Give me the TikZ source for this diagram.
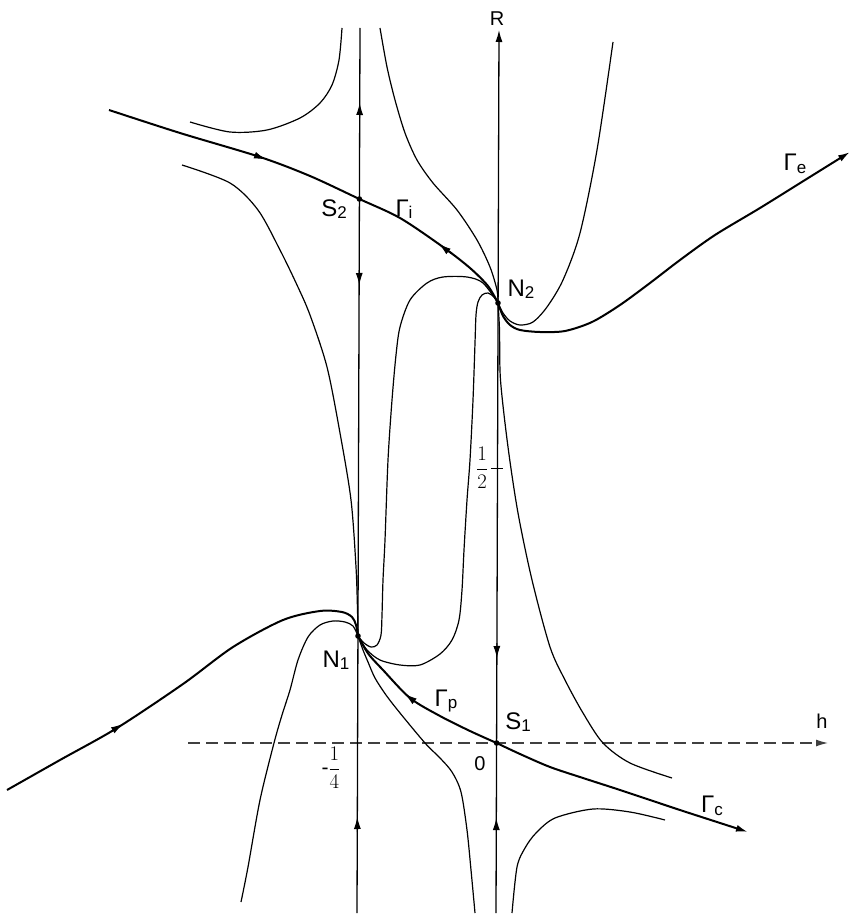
\documentclass[tikz,border=0pt]{standalone}
\usepackage{fontspec}
\setmainfont{Liberation Sans}
\usetikzlibrary{arrows.meta}
\newcommand\sbs[1]{\raisebox{-2.5pt}{\fontsize{17}{17}\selectfont #1}}
\begin{document}
\begin{tikzpicture}[x=1pt,y=-1pt,
  thincurve/.style={line width=1.2pt,line join=round},
  thickcurve/.style={line width=2pt,line join=round},
  axisline/.style={line width=1.3pt},
  endtip/.style={-{Latex[length=12pt,width=7pt]}},
  midarrow/.style={line width=1pt,-{Latex[length=12pt,width=7pt]}},
  lbl/.style={font=\fontsize{24}{27}\selectfont, inner sep=0pt},
  smalllbl/.style={font=\fontsize{20}{23}\selectfont, inner sep=0pt},
  fraclbl/.style={font=\fontsize{21}{24}\selectfont, inner sep=0pt},
  dot/.style={fill=black}
]
\useasboundingbox (0,0) rectangle (854,915);

% key points
\coordinate (N1) at (358,636);
\coordinate (N2) at (498,303);
\coordinate (S1) at (496.6,743);
\coordinate (S2) at (359.4,199);
\coordinate (Lb) at (357,913);
\coordinate (Lt) at (360,28);
\coordinate (Rb) at (496,913);
\coordinate (Rt) at (499,30);
\coordinate (Hl) at (188,743);
\coordinate (Hr) at (828,743);

% axes
\draw[line width=1.2pt, black!75, dash pattern=on 12pt off 6pt, endtip] (Hl) -- (Hr);
\draw[axisline] (Lb) -- (Lt);
\draw[axisline, endtip] (Rb) -- (Rt);
\draw[line width=1pt] (491,468) -- (503,468);

% arrows on the vertical lines
\draw[midarrow] (359.6,118) -- (359.7,103);
\draw[midarrow] (359.2,270) -- (359.3,285);
\draw[midarrow] (357.4,832) -- (357.3,817);
\draw[midarrow] (496.8,643) -- (496.9,658);
\draw[midarrow] (496.3,833) -- (496.3,818);

% Gamma_i (thick)
\draw[thickcurve] plot[smooth] coordinates {(109,110) (180,133) (260,157) (310,176) (S2) (400,218) (443,247) (470,268) (488,286) (N2)};
\draw[midarrow] (253,154.6) -- (266,159.4);
\draw[midarrow] (451,253.5) -- (439,244);

% thin from top into N2
\draw[thincurve] plot[smooth] coordinates {(380,28) (387,67) (395,100) (405,133) (417,160) (433,183) (457,210) (477,240) (490,267) (497,290) (N2)};

% top-left curve
\draw[thincurve] plot[smooth] coordinates {(190,122) (230,132) (267,130) (300,118) (320,103) (332,85) (339,60) (342,28)};

% left curve into N1 from above
\draw[thincurve] plot[smooth] coordinates {(182,165) (230,183) (258,210) (280,250) (297,285) (310,315) (327,367) (340,433) (351,500) (356,567) (357.5,610) (N1)};

% curve A (left S)
\draw[thincurve] plot[smooth] coordinates {(N1) (364,643) (371,647) (377,645) (381,635) (382,615) (383,580) (385,540) (388,460) (392,400) (396,355) (400,327) (410,300) (427,283) (443,277) (467,277) (483,283) (N2)};

% curve B (right S)
\draw[thincurve] plot[smooth] coordinates {(N1) (367,650) (380,660) (400,665) (420,665) (440,654) (452,640) (459,620) (462,590) (464,550) (467,500) (470,460) (473,400) (475,343) (476,315) (478,302) (482,295) (488,293) (494,297) (N2)};

% Gamma_p (thick)
\draw[thickcurve] plot[smooth] coordinates {(N1) (364,647) (370,656) (383,670) (410,698) (440,716) (470,731) (S1)};
\draw[midarrow] (416,702.5) -- (405,694);

% thin below Gamma_p
\draw[thincurve] plot[smooth] coordinates {(N1) (363,650) (368,662) (375,678) (386,695) (400,713) (425,743) (440,758) (452,772) (461,792) (467,830) (471,870) (475,913)};

% thin left hump down to bottom
\draw[thincurve] plot[smooth] coordinates {(N1) (353,626) (345,622) (333,621) (320,625) (308,637) (298,660) (290,690) (282,715) (274,743) (260,800) (248,867) (241,902)};

% thick from left into N1
\draw[thickcurve] plot[smooth] coordinates {(7,790) (60,760) (117,728) (183,684) (233,647) (283,620) (320,611) (342,612) (352,617) (356,625) (N1)};
\draw[midarrow] (110,732) -- (123,724);

% parabola right of N2
\draw[thincurve] plot[smooth] coordinates {(N2) (503,313) (510,321) (520,325) (533,322) (547,307) (563,280) (580,233) (597,150) (613,42)};

% Gamma_e (thick)
\draw[thickcurve, endtip] plot[smooth] coordinates {(N2) (503,316) (510,325) (520,330) (540,332) (565,331) (592,322) (620,305) (650,283) (680,260) (715,235) (760,208) (805,180) (850,152)};

% thin from N2 down right
\draw[thincurve] plot[smooth] coordinates {(N2) (499.5,330) (500.5,380) (508,447) (518,513) (532,580) (550,647) (565,680) (583,713) (603,743) (630,763) (672,778)};

% Gamma_c (thick)
\draw[thickcurve, endtip] plot[smooth] coordinates {(S1) (520,754) (550,767) (583,778) (617,789) (650,800) (683,811) (748,832)};

% bottom right thin
\draw[thincurve] plot[smooth] coordinates {(512,913) (517,867) (525,848) (536,833) (555,818) (593,809) (630,812) (665,820)};

% points
\fill[dot] (N1) circle (2.8pt);
\fill[dot] (N2) circle (2.8pt);
\fill[dot] (S1) circle (2.8pt);
\fill[dot] (S2) circle (2.8pt);

% labels
\node[smalllbl] (lR) at (497,19) {R};
\node[smalllbl] (lh) at (822,721) {h};
\node[smalllbl] (l0) at (480,764) {0};
\node[lbl] (lN2) at (521,289) {N\sbs{2}};
\node[lbl] (lN1) at (336,660) {N\sbs{1}};
\node[lbl] (lS2) at (334,209) {S\sbs{2}};
\node[lbl] (lS1) at (518,722) {S\sbs{1}};
\node[lbl] (lGi) at (404,209) {Γ\sbs{i}};
\node[lbl] (lGe) at (795,164) {Γ\sbs{e}};
\node[lbl] (lGp) at (446,701) {Γ\sbs{p}};
\node[lbl] (lGc) at (712,806) {Γ\sbs{c}};
\node[fraclbl] (lhalf) at (482,468) {$\displaystyle\frac{1}{2}$};
\node[fraclbl] (lquart) at (331,768) {-$\displaystyle\frac{1}{4}$};
\end{tikzpicture}
\end{document}
